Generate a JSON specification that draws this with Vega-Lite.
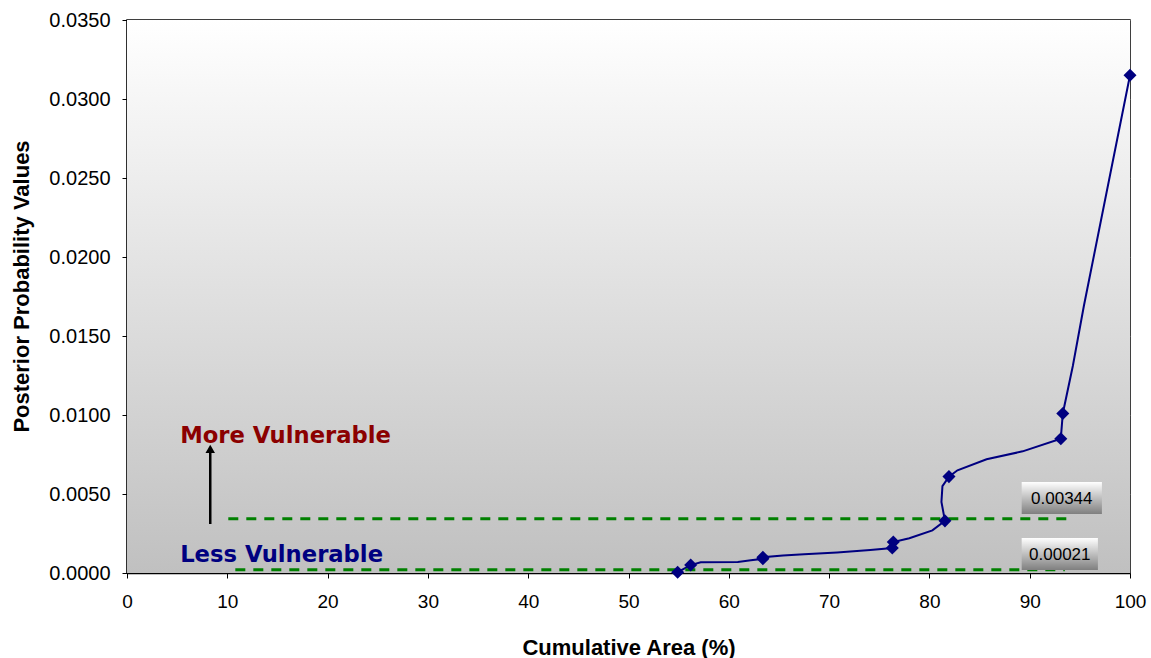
{
  "$schema": "https://vega.github.io/schema/vega-lite/v6.json",
  "width": 1003,
  "height": 553,
  "autosize": {"type": "none"},
  "padding": {"left": 127, "top": 20, "right": 21, "bottom": 85},
  "background": "white",
  "config": {
    "view": {"stroke": "black", "strokeWidth": 1.5},
    "axis": {"labelFont": "Liberation Sans", "titleFont": "Liberation Sans", "labelColor": "black", "titleColor": "black", "domainColor": "black", "tickColor": "black", "tickSize": 5, "domainWidth": 1.5, "labelFlush": false}
  },
  "datasets": {
    "bg": [{"k": 1}],
    "curve": [
      {"o": 1, "area": 54.9, "p": 0.00005},
      {"o": 2, "area": 56.2, "p": 0.0005},
      {"o": 3, "area": 57.2, "p": 0.00068},
      {"o": 4, "area": 60.9, "p": 0.0007},
      {"o": 5, "area": 62.2, "p": 0.0008},
      {"o": 6, "area": 63.4, "p": 0.0009},
      {"o": 7, "area": 63.4, "p": 0.001},
      {"o": 8, "area": 65.4, "p": 0.0011},
      {"o": 9, "area": 67.5, "p": 0.00118},
      {"o": 10, "area": 70.8, "p": 0.0013},
      {"o": 11, "area": 74.1, "p": 0.00145},
      {"o": 12, "area": 76.3, "p": 0.00158},
      {"o": 13, "area": 76.4, "p": 0.00196},
      {"o": 14, "area": 78.0, "p": 0.0022},
      {"o": 15, "area": 80.3, "p": 0.0027},
      {"o": 16, "area": 81.55, "p": 0.0033},
      {"o": 17, "area": 81.2, "p": 0.0045},
      {"o": 18, "area": 81.3, "p": 0.0055},
      {"o": 19, "area": 81.95, "p": 0.0061},
      {"o": 20, "area": 82.8, "p": 0.0065},
      {"o": 21, "area": 85.7, "p": 0.0072},
      {"o": 22, "area": 89.3, "p": 0.0077},
      {"o": 23, "area": 93.1, "p": 0.0085},
      {"o": 24, "area": 93.3, "p": 0.0101},
      {"o": 25, "area": 94.3, "p": 0.0131},
      {"o": 26, "area": 95.4, "p": 0.0169},
      {"o": 27, "area": 100, "p": 0.0315}
    ],
    "markers": [
      {"area": 54.9, "p": 0.00005},
      {"area": 56.2, "p": 0.0005},
      {"area": 63.4, "p": 0.0009},
      {"area": 63.4, "p": 0.001},
      {"area": 76.3, "p": 0.00158},
      {"area": 76.4, "p": 0.00196},
      {"area": 81.55, "p": 0.0033},
      {"area": 81.95, "p": 0.0061},
      {"area": 93.1, "p": 0.0085},
      {"area": 93.3, "p": 0.0101},
      {"area": 100, "p": 0.0315}
    ],
    "refs": [
      {"x1": 10.1, "x2": 94.3, "p": 0.00344},
      {"x1": 10.8, "x2": 93.5, "p": 0.00021}
    ],
    "boxes": [
      {"label": "0.00344", "x1": 89.2, "x2": 97.2, "y1": 0.00373, "y2": 0.00576, "ym": 0.00468, "xm": 93.2},
      {"label": "0.00021", "x1": 89.2, "x2": 96.8, "y1": 0.00019, "y2": 0.00222, "ym": 0.00114, "xm": 93.0}
    ],
    "notes": [
      {"label": "More Vulnerable", "x": 5.3, "y": 0.0082, "c": "more"},
      {"label": "Less Vulnerable", "x": 5.3, "y": 0.0007, "c": "less"}
    ],
    "arrow": [{"x": 8.3, "y1": 0.0031, "y2": 0.0078, "tip": 0.00785}]
  },
  "layer": [
    {
      "data": {"name": "bg"},
      "mark": {"type": "rect", "color": {"gradient": "linear", "x1": 0, "y1": 0, "x2": 0, "y2": 1, "stops": [{"offset": 0, "color": "#ffffff"}, {"offset": 1, "color": "#c0c0c0"}]}},
      "encoding": {"x": {"value": 0}, "x2": {"value": "width"}, "y": {"value": 0}, "y2": {"value": "height"}}
    },
    {
      "data": {"name": "curve"},
      "mark": {"type": "line", "color": "#000080", "strokeWidth": 2},
      "encoding": {
        "x": {"field": "area", "type": "quantitative", "scale": {"domain": [0, 100], "nice": false},
          "axis": {"title": "Cumulative Area (%)", "values": [0,10,20,30,40,50,60,70,80,90,100], "format": "d", "grid": false, "labelFontSize": 19, "labelPadding": 14, "titleFontSize": 22, "titleFontWeight": "bold", "titlePadding": 26}},
        "y": {"field": "p", "type": "quantitative", "scale": {"domain": [0, 0.035], "nice": false},
          "axis": {"title": "Posterior Probability Values", "values": [0,0.005,0.01,0.015,0.02,0.025,0.03,0.035], "format": ".4f", "grid": true, "gridColor": "#7a7a7a", "gridWidth": 1.2, "labelFontSize": 20, "labelPadding": 12, "titleFontSize": 22, "titleFontWeight": "bold", "titlePadding": 15, "titleY": 266}},
        "order": {"field": "o", "type": "quantitative"}
      }
    },
    {
      "data": {"name": "refs"},
      "mark": {"type": "rule", "color": "#008000", "strokeWidth": 3, "strokeDash": [10, 8]},
      "encoding": {"x": {"field": "x1", "type": "quantitative"}, "x2": {"field": "x2"}, "y": {"field": "p", "type": "quantitative"}}
    },
    {
      "data": {"name": "markers"},
      "mark": {"type": "point", "shape": "diamond", "filled": true, "color": "#000080", "size": 170, "opacity": 1},
      "encoding": {"x": {"field": "area", "type": "quantitative"}, "y": {"field": "p", "type": "quantitative"}}
    },
    {
      "data": {"name": "boxes"},
      "mark": {"type": "rect", "color": {"gradient": "linear", "x1": 0, "y1": 0, "x2": 0, "y2": 1, "stops": [{"offset": 0, "color": "#ffffff"}, {"offset": 1, "color": "#7f7f7f"}]}},
      "encoding": {"x": {"field": "x1", "type": "quantitative"}, "x2": {"field": "x2"}, "y": {"field": "y1", "type": "quantitative"}, "y2": {"field": "y2"}}
    },
    {
      "data": {"name": "boxes"},
      "mark": {"type": "text", "font": "Liberation Sans", "fontSize": 17, "color": "black", "align": "center", "baseline": "middle"},
      "encoding": {"x": {"field": "xm", "type": "quantitative"}, "y": {"field": "ym", "type": "quantitative"}, "text": {"field": "label"}}
    },
    {
      "data": {"name": "notes"},
      "mark": {"type": "text", "font": "DejaVu Sans", "fontWeight": "bold", "fontSize": 22.7, "align": "left", "baseline": "alphabetic"},
      "encoding": {"x": {"field": "x", "type": "quantitative"}, "y": {"field": "y", "type": "quantitative"}, "text": {"field": "label"},
        "color": {"field": "c", "type": "nominal", "scale": {"domain": ["more", "less"], "range": ["#8b0000", "#000080"]}, "legend": null}}
    },
    {
      "data": {"name": "arrow"},
      "mark": {"type": "rule", "color": "black", "strokeWidth": 2.5},
      "encoding": {"x": {"field": "x", "type": "quantitative"}, "y": {"field": "y1", "type": "quantitative"}, "y2": {"field": "y2"}}
    },
    {
      "data": {"name": "arrow"},
      "mark": {"type": "point", "shape": "triangle-up", "filled": true, "color": "black", "size": 90, "opacity": 1},
      "encoding": {"x": {"field": "x", "type": "quantitative"}, "y": {"field": "tip", "type": "quantitative"}}
    }
  ]
}
